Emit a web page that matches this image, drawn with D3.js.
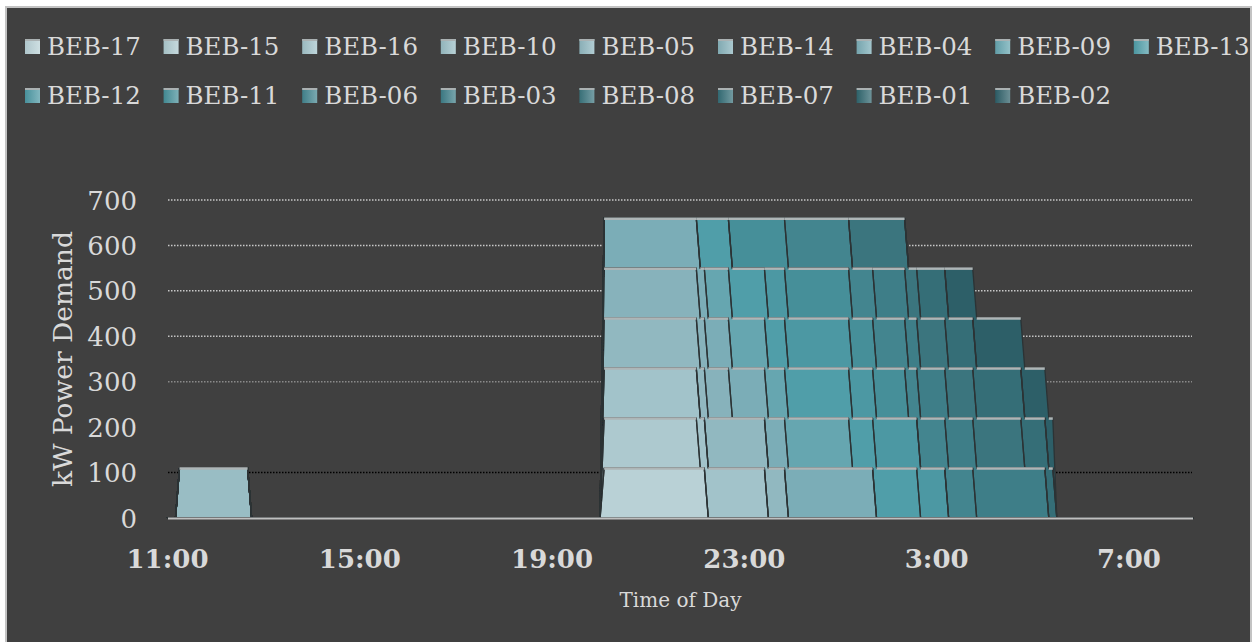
<!DOCTYPE html>
<html>
<head>
<meta charset="utf-8">
<script src="https://cdn.jsdelivr.net/npm/d3@7"></script>
<style>
  html, body { margin: 0; padding: 0; background: #ffffff; }
  svg { display: block; }
</style>
</head>
<body>
<svg id="chart" width="1257" height="642"></svg>
<script>
// Bus series, in stacking order (first = bottom of the stack)
const seriesNames = ["BEB-17","BEB-15","BEB-16","BEB-10","BEB-05","BEB-14","BEB-04","BEB-09","BEB-13",
                     "BEB-12","BEB-11","BEB-06","BEB-03","BEB-08","BEB-07","BEB-01","BEB-02"];
const seriesColors = ["#b9d1d6","#adc9cf","#a2c3ca","#99bdc4","#91b8c0","#87b2bb","#7badb7","#66a6b0","#509ea9",
                      "#4c98a3","#468f99","#43858f","#3e7e88","#3b757e","#356e77","#30666f","#2d5f68"];
// Charging windows (clock time; hours before 11:00 belong to the next morning)
const chargeStart = ["20:05","20:05","20:05","11:15","20:05","20:05","20:05","22:15","22:05",
                     "23:30","22:45","23:55","01:45","01:15","02:40",null,"03:15"];
const chargeEnd   = ["22:15","22:05","23:30","12:45","23:55","22:45","01:45","01:15","02:40",
                     "03:15","02:25","03:50","05:20","04:50","05:30",null,"05:30"];
const chargeKW    = [110,110,110,110,110,110,110,110,110,110,110,110,110,110,110,0,110];

// Axis definitions
const axisStart = "11:00";
const axisEnd = "08:20";
const sampleMinutes = 5;
const xTickTimes  = ["11:00","15:00","19:00","23:00","03:00","07:00"];
const xTickLabels = ["11:00","15:00","19:00","23:00","3:00","7:00"];
const yTicks = [0,100,200,300,400,500,600,700];

const toHour = s => {
  const [h, m] = s.split(":").map(Number);
  const v = h + m / 60;
  return v < 11 ? v + 24 : v;
};

// Time series of charging power, one row per sample
const t0 = toHour(axisStart), t1 = toHour(axisEnd);
const rows = [];
const nSamples = Math.round((t1 - t0) * 60 / sampleMinutes);
for (let i = 0; i <= nSamples; i++) {
  const t = t0 + i * sampleMinutes / 60;
  const row = { t };
  seriesNames.forEach((k, j) => {
    const s = chargeStart[j], e = chargeEnd[j];
    row[k] = (s && t >= toHour(s) - 1e-9 && t < toHour(e) - 1e-9) ? chargeKW[j] : 0;
  });
  rows.push(row);
}

const font = "DejaVu Serif";
const textColor = "#d9d9d9";
const svg = d3.select("#chart");

// Gradients for legend swatches
const defs = svg.append("defs");
seriesColors.forEach((c, i) => {
  const g = defs.append("linearGradient").attr("id", "sw" + i)
    .attr("x1", 0).attr("x2", 1).attr("y1", 0).attr("y2", 0);
  g.append("stop").attr("offset", 0).attr("stop-color", d3.color(c).darker(0.15));
  g.append("stop").attr("offset", 1).attr("stop-color", d3.interpolateRgb(c, "#ffffff")(0.3));
});

// Chart frame
svg.append("rect")
  .attr("x", 6).attr("y", 7).attr("width", 1245).attr("height", 640)
  .attr("fill", "#404040").attr("stroke", "#c3c3c3").attr("stroke-width", 2);

const x = d3.scaleLinear().domain([t0, t1]).range([167.5, 1193]);
const y = d3.scaleLinear().domain([0, 700]).range([518, 200]);

// Gridlines
const gridColor = { 700: "#c8c8c8", 600: "#c8c8c8", 500: "#c8c8c8", 400: "#c2c2c2", 300: "#8a8a8a", 100: "#000000" };
svg.append("g").selectAll("line")
  .data(yTicks.filter(v => v > 0 && gridColor[v]))
  .join("line")
  .attr("x1", 168).attr("x2", 1192)
  .attr("y1", d => y(d)).attr("y2", d => y(d))
  .attr("stroke", d => gridColor[d])
  .attr("stroke-width", 1.5)
  .attr("stroke-dasharray", "1.5,1.5");

// Y tick labels
svg.append("g").selectAll("text")
  .data(yTicks)
  .join("text")
  .attr("x", 137).attr("y", d => y(d) + 9.5)
  .attr("text-anchor", "end")
  .attr("font-family", font).attr("font-size", 26)
  .attr("fill", textColor)
  .text(d => d);

// Y title
svg.append("text")
  .attr("transform", "translate(72,359) rotate(-90)")
  .attr("text-anchor", "middle")
  .attr("font-family", font).attr("font-size", 26.5)
  .attr("fill", textColor)
  .text("kW Power Demand");

// Stacked areas
const stack = d3.stack().keys(seriesNames).order(d3.stackOrderNone).offset(d3.stackOffsetNone);
const layers = stack(rows);

const area = d3.area()
  .x(d => x(d.data.t))
  .y0(d => y(d[0]))
  .y1(d => y(d[1]))
  .curve(d3.curveLinear);

const plot = svg.append("g");
plot.append("g").selectAll("path")
  .data(layers)
  .join("path")
  .attr("d", area)
  .attr("fill", (d, i) => seriesColors[i]);

// Dark edges where blocks hand over
plot.append("g").selectAll("path")
  .data(layers)
  .join("path")
  .attr("d", area)
  .attr("fill", "none")
  .attr("stroke", "#2c3335")
  .attr("stroke-width", 1.3)
  .attr("stroke-linejoin", "round");

// Light bevel along the flat top of each block
const topRuns = [];
layers.forEach(layer => {
  const k = layer.key;
  let run = null;
  for (let i = 0; i < layer.length - 1; i++) {
    const a = layer[i], b = layer[i + 1];
    const flat = Math.abs(a[1] - b[1]) < 1e-6 && (a.data[k] > 0 || b.data[k] > 0);
    if (flat) {
      if (run && run.end === a.data.t && run.v === a[1]) run.end = b.data.t;
      else { run = { start: a.data.t, end: b.data.t, v: a[1] }; topRuns.push(run); }
    } else run = null;
  }
});
plot.append("g").selectAll("line")
  .data(topRuns)
  .join("line")
  .attr("x1", d => x(d.start)).attr("x2", d => x(d.end))
  .attr("y1", d => y(d.v) + 0.5).attr("y2", d => y(d.v) + 0.5)
  .attr("stroke", "#aeb5b6")
  .attr("stroke-width", 2.5);

// X axis line
svg.append("line")
  .attr("x1", 168).attr("x2", 1193)
  .attr("y1", 518.5).attr("y2", 518.5)
  .attr("stroke", "#bfbfbf").attr("stroke-width", 2.2);

// X tick labels
svg.append("g").selectAll("text")
  .data(xTickTimes)
  .join("text")
  .attr("x", d => x(toHour(d)))
  .attr("y", 568)
  .attr("text-anchor", "middle")
  .attr("font-family", font).attr("font-size", 26).attr("font-weight", "bold")
  .attr("fill", textColor)
  .text((d, i) => xTickLabels[i]);

// X title
svg.append("text")
  .attr("x", 680.5).attr("y", 607)
  .attr("text-anchor", "middle")
  .attr("font-family", font).attr("font-size", 20)
  .attr("fill", textColor)
  .text("Time of Day");

// Legend, two rows
const perRow = 9;
const legend = svg.append("g").selectAll("g")
  .data(seriesNames)
  .join("g")
  .attr("transform", (d, i) => {
    const col = i % perRow, row = Math.floor(i / perRow);
    return `translate(${25 + col * 138.6},${row === 0 ? 39 : 88})`;
  });
legend.append("rect")
  .attr("width", 15).attr("height", 15)
  .attr("fill", (d, i) => `url(#sw${i})`);
legend.append("rect")
  .attr("width", 15).attr("height", 2)
  .attr("fill", "#aab1b2");
legend.append("text")
  .attr("x", 22).attr("y", 16)
  .attr("font-family", font).attr("font-size", 24.5)
  .attr("fill", textColor)
  .text(d => d);
</script>
</body>
</html>
